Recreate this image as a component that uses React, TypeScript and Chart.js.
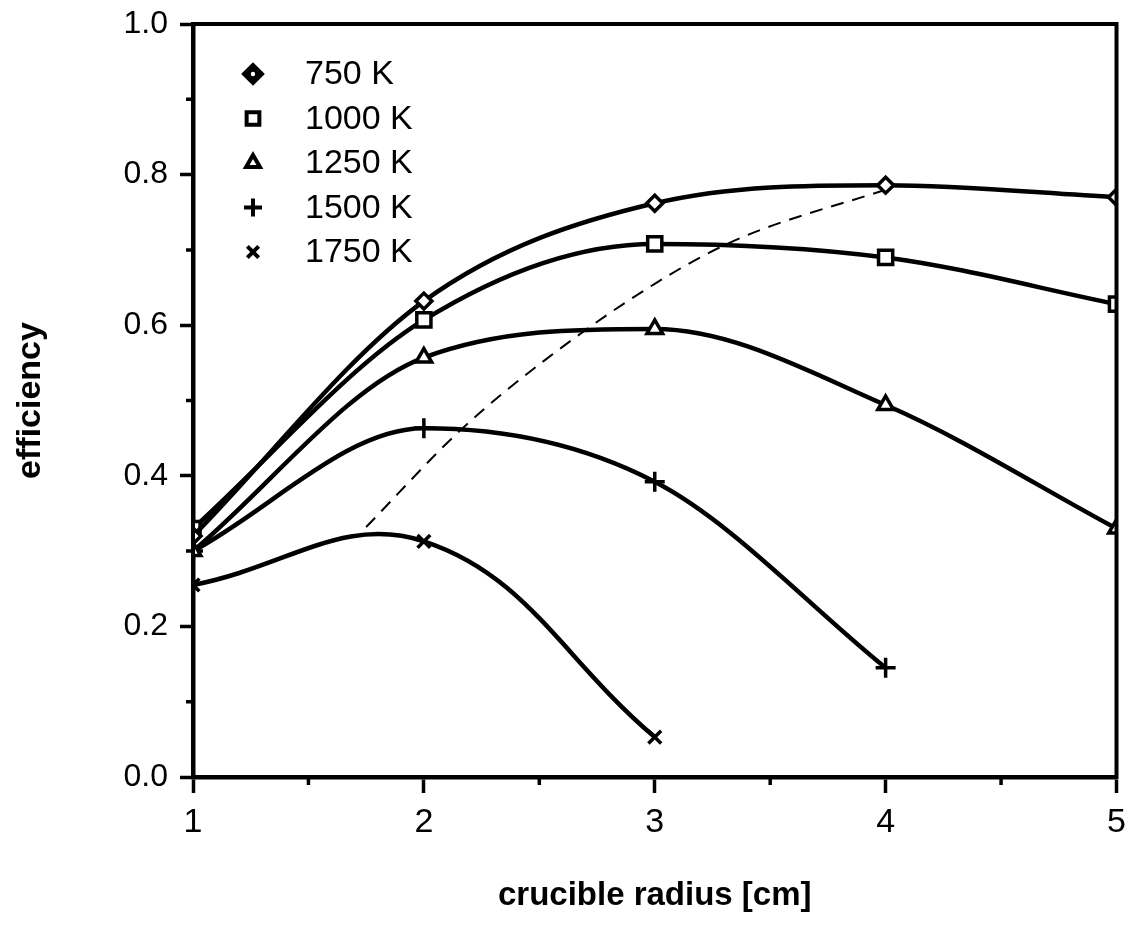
import React, { useEffect, useRef } from 'react';
import { Chart, registerables } from 'chart.js';
import { drawPoint } from 'chart.js/helpers';

Chart.register(...registerables);

const FONT = '"Liberation Sans", Arial, Helvetica, sans-serif';

// crucible radius [cm]
const radius = [1, 2, 3, 4, 5];
// efficiency per temperature
const eff750 = [0.32, 0.632, 0.762, 0.786, 0.77];
const eff1000 = [0.33, 0.607, 0.708, 0.69, 0.628];
const eff1250 = [0.3, 0.557, 0.595, 0.494, 0.33];
const eff1500 = [0.3, 0.463, 0.392, 0.145];
const eff1750 = [0.255, 0.313, 0.053];
// locus of optimum radius (dashed)
const optRadius = [1.75, 2.16, 2.53, 3.0, 3.35, 4.03];
const optEff = [0.332, 0.461, 0.555, 0.655, 0.713, 0.783];

const seriesLabels = ['750 K', '1000 K', '1250 K', '1500 K', '1750 K'];
const seriesStyles = ['rectRot', 'rect', 'triangle', 'cross', 'crossRot'];
const seriesRadii = [8, 10, 9, 10, 9];
const seriesModes = ['monotone', 'monotone', 'monotone', 'monotone', 'default'];
const yTicks = [0, 0.2, 0.4, 0.6, 0.8, 1.0];
const xTicks = [1, 2, 3, 4, 5];
const yMinor = [0.1, 0.3, 0.5, 0.7, 0.9];
const xMinor = [1.5, 2.5, 3.5, 4.5];

const framePlugin = {
  id: 'frameAndMinor',
  afterDraw(chart: any) {
    const { ctx, chartArea } = chart;
    const xs = chart.scales.x;
    const ys = chart.scales.y;
    ctx.save();
    ctx.strokeStyle = '#000';
    ctx.lineWidth = 4;
    ctx.strokeRect(chartArea.left, chartArea.top, chartArea.right - chartArea.left, chartArea.bottom - chartArea.top);
    ctx.lineWidth = 3.5;
    ctx.beginPath();
    yMinor.forEach((v) => {
      const py = ys.getPixelForValue(v);
      ctx.moveTo(chartArea.left - 7, py);
      ctx.lineTo(chartArea.left, py);
    });
    xMinor.forEach((v) => {
      const px = xs.getPixelForValue(v);
      ctx.moveTo(px, chartArea.bottom);
      ctx.lineTo(px, chartArea.bottom + 8);
    });
    ctx.stroke();

    // legend inside plot
    const left = chartArea.left;
    const top = chartArea.top;
    ctx.font = `34px ${FONT}`;
    ctx.textBaseline = 'middle';
    ctx.textAlign = 'left';
    seriesLabels.forEach((lab, i) => {
      const cy = top + 50 + i * 44.5;
      const cx = left + 60;
      ctx.strokeStyle = '#000';
      ctx.lineWidth = 4;
      if (i === 0) {
        ctx.fillStyle = '#000';
        drawPoint(ctx, { pointStyle: 'rectRot', radius: 9, borderWidth: 3, rotation: 0 }, cx, cy);
        ctx.fillStyle = '#fff';
        ctx.beginPath();
        ctx.arc(cx, cy, 2.2, 0, Math.PI * 2);
        ctx.fill();
      } else {
        ctx.fillStyle = '#fff';
        drawPoint(ctx, { pointStyle: seriesStyles[i], radius: seriesRadii[i] - 1, borderWidth: 4, rotation: 0 }, cx, cy);
      }
      ctx.fillStyle = '#000';
      ctx.fillText(lab, left + 112, cy + 1);
    });
    ctx.restore();
  },
};

export default function App() {
  const ref = useRef<HTMLCanvasElement>(null);
  useEffect(() => {
    document.body.style.margin = '0';
    const allSeries = [eff750, eff1000, eff1250, eff1500, eff1750];
    const datasets: any[] = allSeries.map((ys, i) => ({
      label: seriesLabels[i],
      data: ys.map((y, k) => ({ x: radius[k], y })),
      borderColor: '#000',
      borderWidth: 4.5,
      tension: 0.4,
      cubicInterpolationMode: seriesModes[i],
      fill: false,
      pointStyle: seriesStyles[i],
      pointRadius: seriesRadii[i],
      pointBorderWidth: 3.5,
      pointBackgroundColor: '#fff',
      pointBorderColor: '#000',
    }));
    datasets.push({
      label: 'optimum',
      data: optRadius.map((x, k) => ({ x, y: optEff[k] })),
      borderColor: '#000',
      borderWidth: 2,
      borderDash: [13, 9],
      cubicInterpolationMode: 'monotone',
      pointRadius: 0,
      fill: false,
    });
    const chart = new Chart(ref.current!, {
      type: 'line',
      data: { datasets },
      plugins: [framePlugin],
      options: {
        animation: false,
        responsive: true,
        maintainAspectRatio: false,
        layout: { padding: { top: 24, right: 13, left: 0, bottom: 0 } },
        plugins: { legend: { display: false }, tooltip: { enabled: false } },
        scales: {
          x: {
            type: 'linear',
            min: 1,
            max: 5,
            afterFit: (s: any) => { s.height = 160; s.paddingLeft = 0; s.paddingRight = 0; },
            afterBuildTicks: (s: any) => { s.ticks = xTicks.map((v) => ({ value: v })); },
            ticks: { color: '#000', padding: 9, font: { family: FONT, size: 34 }, callback: (v: any) => String(v) },
            grid: { drawOnChartArea: false, tickLength: 16, tickWidth: 3.5, color: '#000' },
            border: { display: true, color: '#000', width: 4.5 },
            title: { display: true, text: 'crucible radius [cm]', color: '#000', font: { family: FONT, size: 33, weight: 'bold' }, padding: { top: 0, bottom: 21 } },
          },
          y: {
            type: 'linear',
            min: 0,
            max: 1,
            afterFit: (s: any) => { s.width = 193; s.paddingTop = 0; s.paddingBottom = 0; },
            afterBuildTicks: (s: any) => { s.ticks = yTicks.map((v) => ({ value: v })); },
            ticks: { color: '#000', padding: 12, font: { family: FONT, size: 32 }, callback: (v: any) => Number(v).toFixed(1) },
            grid: { drawOnChartArea: false, tickLength: 13, tickWidth: 3.5, color: '#000' },
            border: { display: true, color: '#000', width: 4.5 },
            title: { display: true, text: 'efficiency', color: '#000', font: { family: FONT, size: 34, weight: 'bold' }, padding: { top: 10, bottom: 0 } },
          },
        },
      },
    });
    return () => chart.destroy();
  }, []);
  return (
    <div style={{ width: 1130, height: 937, position: 'relative' }}>
      <canvas ref={ref} />
    </div>
  );
}
